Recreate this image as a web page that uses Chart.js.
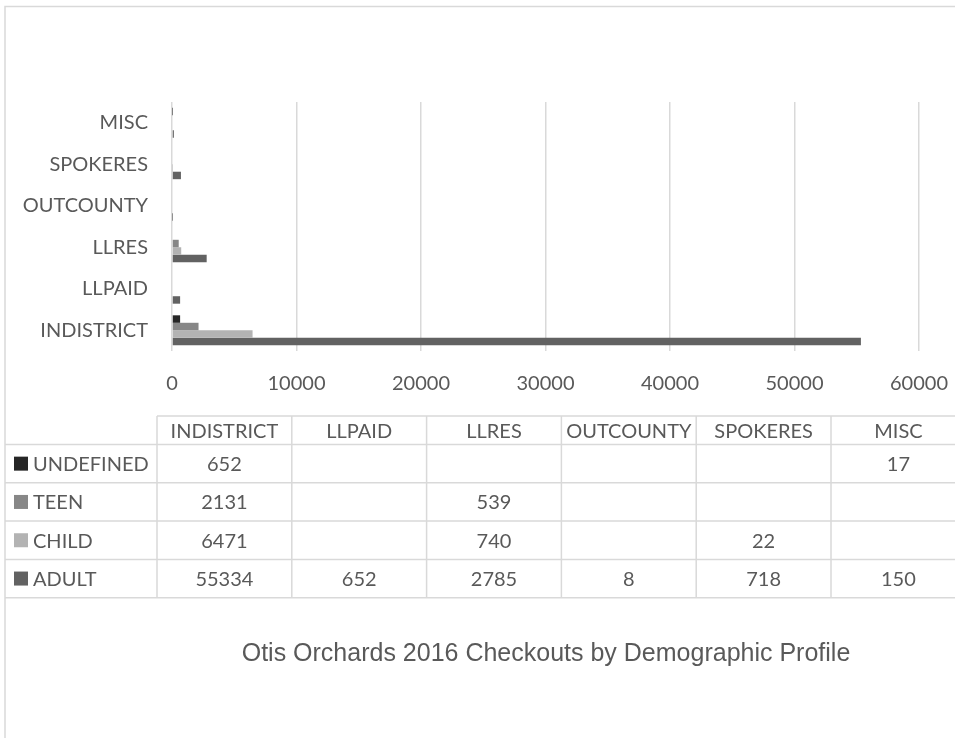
<!DOCTYPE html>
<html>
<head>
<meta charset="utf-8">
<title>Otis Orchards 2016 Checkouts by Demographic Profile</title>
<script src="https://cdn.jsdelivr.net/npm/chart.js@4.4.0/dist/chart.umd.min.js"></script>
<style>
  html, body { margin: 0; padding: 0; background: #fff; overflow: hidden; }
  #wrap { width: 1092px; height: 738px; }
</style>
</head>
<body>
<div id="wrap"><canvas id="chart" width="1092" height="738"></canvas></div>
<script>
// ── Data ───────────────────────────────────────────────────────
const categories = ['INDISTRICT', 'LLPAID', 'LLRES', 'OUTCOUNTY', 'SPOKERES', 'MISC'];
const seriesNames = ['UNDEFINED', 'TEEN', 'CHILD', 'ADULT'];
const undefinedCounts = [652, null, null, null, null, 17];
const teenCounts      = [2131, null, 539, null, null, null];
const childCounts     = [6471, null, 740, null, 22, null];
const adultCounts     = [55334, 652, 2785, 8, 718, 150];
const xTicks = [0, 10000, 20000, 30000, 40000, 50000, 60000];
const chartTitle = 'Otis Orchards 2016 Checkouts by Demographic Profile';

// ── Styles ─────────────────────────────────────────────────────
const seriesColors = ['#262626', '#878787', '#b3b3b3', '#626262'];
const seriesValues = [undefinedCounts, teenCounts, childCounts, adultCounts];
const TEXT = '#595959';
const LINE = '#d9d9d9';
const FONT = 'Lato';

// data table geometry (below the plot, Excel style)
const TABLE = { left: 5, colStart: 157, colW: 134.8, headTop: 416, headBottom: 444.5, rowH: 38.3 };

// ── Plugins ────────────────────────────────────────────────────
const chartBorder = {
  id: 'chartBorder',
  beforeDraw(chart) {
    const ctx = chart.ctx;
    ctx.save();
    ctx.strokeStyle = LINE;
    ctx.lineWidth = 1.5;
    ctx.strokeRect(5, 6.5, 1082, 800);
    ctx.restore();
  },
};

const dataTable = {
  id: 'dataTable',
  afterDraw(chart) {
    const ctx = chart.ctx;
    const t = TABLE;
    const right = t.colStart + categories.length * t.colW;
    const bottom = t.headBottom + seriesNames.length * t.rowH;
    ctx.save();
    ctx.strokeStyle = LINE;
    ctx.lineWidth = 1.5;
    ctx.beginPath();
    ctx.moveTo(t.colStart, t.headTop);
    ctx.lineTo(right, t.headTop);
    for (let i = 0; i <= seriesNames.length; i++) {
      const y = t.headBottom + i * t.rowH;
      ctx.moveTo(t.left, y);
      ctx.lineTo(right, y);
    }
    for (let j = 0; j <= categories.length; j++) {
      const x = t.colStart + j * t.colW;
      ctx.moveTo(x, t.headTop);
      ctx.lineTo(x, bottom);
    }
    ctx.stroke();

    ctx.fillStyle = TEXT;
    ctx.font = `20px ${FONT}`;
    ctx.textBaseline = 'middle';
    ctx.textAlign = 'center';
    categories.forEach((c, j) => {
      ctx.fillText(c, t.colStart + (j + 0.5) * t.colW, (t.headTop + t.headBottom) / 2 + 1);
    });

    seriesNames.forEach((name, i) => {
      const cy = t.headBottom + (i + 0.5) * t.rowH;
      ctx.fillStyle = seriesColors[i];
      ctx.fillRect(14, cy - 7, 14, 14);
      ctx.fillStyle = TEXT;
      ctx.textAlign = 'left';
      ctx.fillText(name, 33, cy + 1);
      ctx.textAlign = 'center';
      seriesValues[i].forEach((v, j) => {
        if (v === null) return;
        ctx.fillText(String(v), t.colStart + (j + 0.5) * t.colW, cy + 1);
      });
    });
    ctx.restore();
  },
};

// ── Chart ──────────────────────────────────────────────────────
Chart.defaults.font.family = FONT;

const datasets = seriesNames.map((name, i) => ({
  label: name,
  data: seriesValues[i],
  backgroundColor: seriesColors[i],
  borderWidth: 0,
  categoryPercentage: 0.72,
  barPercentage: 1.0,
}));

new Chart(document.getElementById('chart'), {
  type: 'bar',
  data: { labels: categories, datasets },
  plugins: [chartBorder, dataTable],
  options: {
    indexAxis: 'y',
    responsive: false,
    animation: false,
    devicePixelRatio: 1,
    layout: { padding: { top: 102, left: 0, right: 0, bottom: 0 } },
    plugins: {
      legend: { display: false },
      tooltip: { enabled: false },
      title: {
        display: true,
        position: 'bottom',
        text: chartTitle,
        color: TEXT,
        font: { family: 'Liberation Sans', size: 25, weight: 'normal' },
        padding: { top: 0, bottom: 69 },
      },
    },
    scales: {
      x: {
        min: 0,
        max: 60000,
        grid: { color: LINE, lineWidth: 1.5, drawTicks: false },
        border: { display: false },
        ticks: { color: TEXT, font: { size: 20 }, padding: 21, callback: v => String(v) },
        afterBuildTicks: s => { s.ticks = xTicks.map(v => ({ value: v })); },
        afterFit: s => { s.height = 288; },
      },
      y: {
        type: 'category',
        reverse: true,
        grid: { display: false, drawTicks: false },
        border: { display: false },
        ticks: { color: TEXT, font: { size: 20 }, padding: 24 },
        afterFit: s => { s.width = 172; },
      },
      y2: {
        type: 'linear',
        position: 'right',
        grid: { display: false, drawTicks: false },
        border: { display: false },
        ticks: { display: false },
        afterFit: s => { s.width = 173; },
      },
    },
  },
});
</script>
</body>
</html>
